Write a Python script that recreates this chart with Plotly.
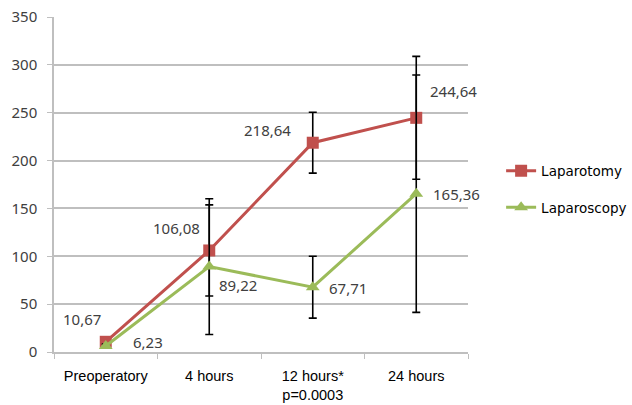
import plotly.graph_objects as go

categories = ["Preoperatory", "4 hours", "12 hours*<br>p=0.0003", "24 hours"]
laparotomy = [10.67, 106.08, 218.64, 244.64]
laparotomy_err = [3, 47.6, 31.8, 64.2]
laparoscopy = [6.23, 89.22, 67.71, 165.36]
laparoscopy_err = [2, 70.9, 32.3, 124]
laparotomy_labels = ["10,67", "106,08", "218,64", "244,64"]
laparoscopy_labels = ["6,23", "89,22", "67,71", "165,36"]

# label offsets (pixels) for data labels
lap_tomy_shift = [(-24, 23), (-33, 22), (-45, 13), (37, 27)]
lap_scopy_shift = [(42, 4), (29, -18), (35, -1), (40, 0)]

RED = "#C0504D"
GREEN = "#9BBB59"

fig = go.Figure()
fig.add_trace(go.Scatter(
    x=categories, y=laparotomy, name="Laparotomy", mode="lines+markers",
    line=dict(color=RED, width=3), marker=dict(symbol="square", size=12, color=RED),
    error_y=dict(type="data", array=laparotomy_err, visible=True, color="black", thickness=1.6, width=4),
    legendgroup="a",
))
fig.add_trace(go.Scatter(
    x=categories, y=laparoscopy, name="Laparoscopy", mode="lines+markers",
    line=dict(color=GREEN, width=3), marker=dict(symbol="triangle-up", size=12, color=GREEN),
    error_y=dict(type="data", array=laparoscopy_err, visible=True, color="black", thickness=1.6, width=4),
    legendgroup="b",
))

annotations = []
for cat, val, lab, (dx, dy) in zip(categories, laparotomy, laparotomy_labels, lap_tomy_shift):
    annotations.append(dict(x=cat, y=val, text=lab, showarrow=False, xshift=dx, yshift=dy,
                            font=dict(family="Noto Sans", size=15, color="#404040")))
for cat, val, lab, (dx, dy) in zip(categories, laparoscopy, laparoscopy_labels, lap_scopy_shift):
    annotations.append(dict(x=cat, y=val, text=lab, showarrow=False, xshift=dx, yshift=dy,
                            font=dict(family="Noto Sans", size=15, color="#404040")))

fig.update_layout(
    width=632, height=405,
    margin=dict(l=54, r=164, t=17, b=53, autoexpand=False),
    paper_bgcolor="white", plot_bgcolor="white",
    annotations=annotations,
    showlegend=True,
    legend=dict(x=1.08, xanchor="left", y=0.485, yanchor="middle",
                font=dict(family="DejaVu Sans", size=13.5, color="black"),
                tracegroupgap=16, bgcolor="rgba(0,0,0,0)"),
    xaxis=dict(type="category", range=[-0.5, 3.5], showgrid=False, automargin=False,
               showline=True, linecolor="#BFBFBF", linewidth=1.5,
               ticks="outside", tickson="boundaries", ticklen=5, tickcolor="#BFBFBF",
               tickfont=dict(family="Liberation Sans", size=14.5, color="black"),
               ticklabelstandoff=10, ticklabeloverflow="allow"),
    yaxis=dict(range=[0, 350], dtick=50, showgrid=True, gridcolor="#BFBFBF", gridwidth=1.5,
               automargin=False,
               showline=True, linecolor="#BFBFBF", linewidth=1.5, zeroline=False,
               ticks="outside", ticklen=5, tickcolor="#BFBFBF",
               tickfont=dict(family="Noto Sans", size=15, color="#404040"),
               ticklabelstandoff=7, ticklabeloverflow="allow"),
)

fig.write_html("out.html", config={"displayModeBar": False},
               post_script="document.body.style.margin='0';")
